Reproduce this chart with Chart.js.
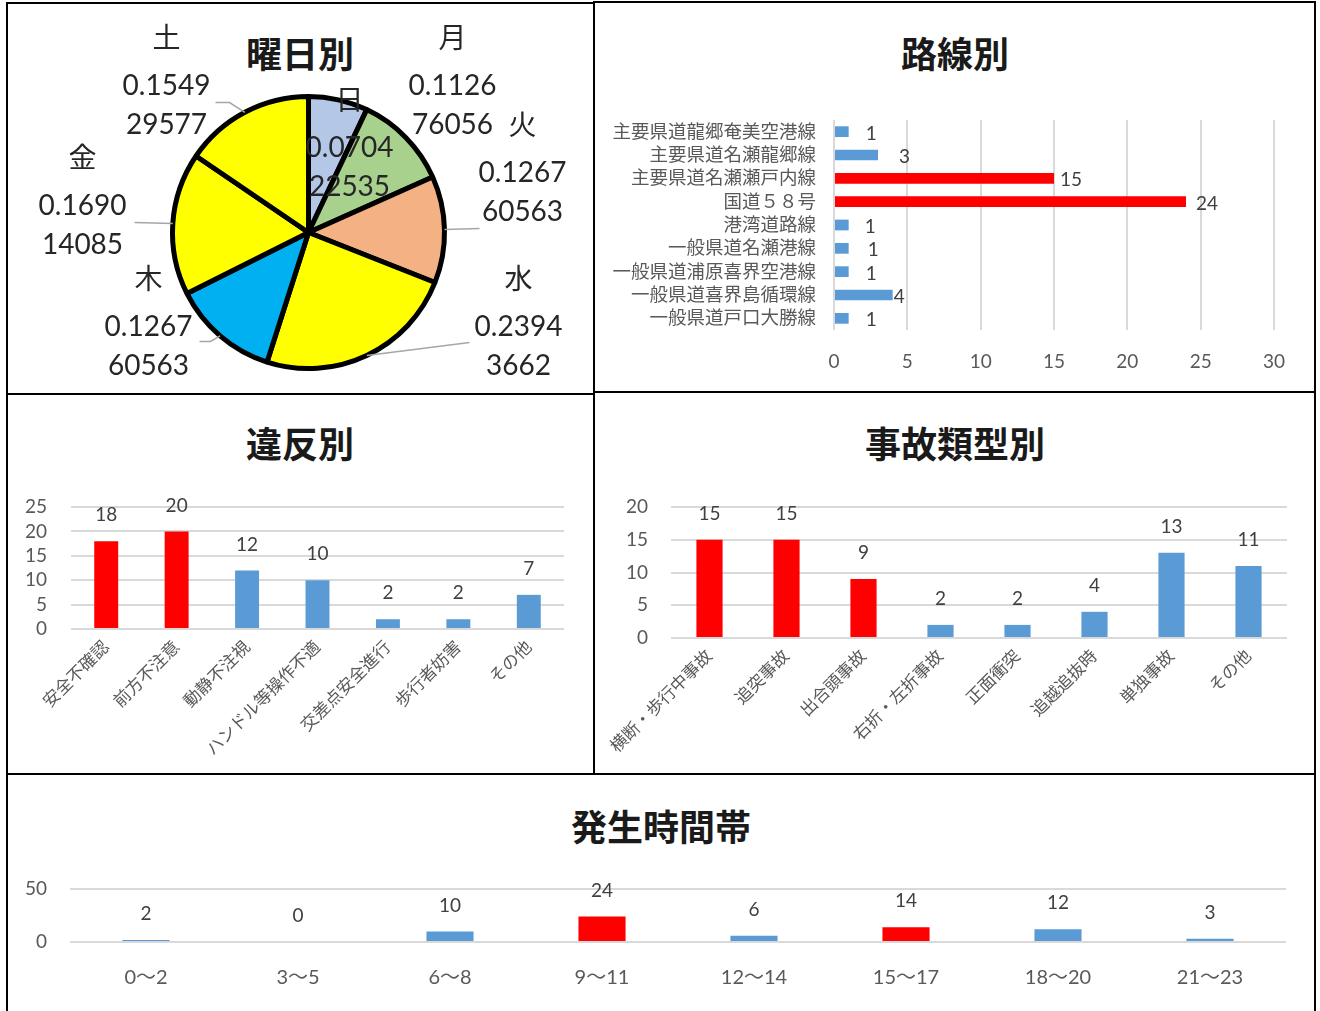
<!DOCTYPE html>
<html>
<head>
<meta charset="utf-8">
<script src="https://cdn.jsdelivr.net/npm/chart.js@4.4.1/dist/chart.umd.min.js"></script>
<style>
    body { margin: 0; background: #fff; }
    #page { position: relative; width: 1320px; height: 1011px; overflow: hidden; }
    .box { position: absolute; border: 2px solid #000; box-sizing: border-box; }
    .ttl { position: absolute; transform: translate(-50%, -50%); white-space: nowrap;
           font: bold 36px "Noto Sans CJK JP", sans-serif; color: #1a1a1a; }
    canvas { position: absolute; }
</style>
</head>
<body>
<div id="page">
    <div class="box" style="left:6px;top:2px;width:589px;height:393px"></div>
    <div class="box" style="left:593px;top:1px;width:723px;height:392px"></div>
    <div class="box" style="left:6px;top:393px;width:589px;height:382px"></div>
    <div class="box" style="left:593px;top:391px;width:723px;height:384px"></div>
    <div class="box" style="left:6px;top:773px;width:1310px;height:260px"></div>

    <div class="ttl" style="left:300px;top:52px">曜日別</div>
    <div class="ttl" style="left:955px;top:52px">路線別</div>
    <div class="ttl" style="left:300px;top:442px">違反別</div>
    <div class="ttl" style="left:955px;top:442px">事故類型別</div>
    <div class="ttl" style="left:661px;top:825px">発生時間帯</div>

    <canvas id="weekChart"  style="left:8px;top:4px"     width="585" height="388"></canvas>
    <canvas id="routeChart" style="left:595px;top:3px"   width="719" height="388"></canvas>
    <canvas id="violChart"  style="left:8px;top:395px"   width="585" height="377"></canvas>
    <canvas id="typeChart"  style="left:595px;top:393px" width="719" height="380"></canvas>
    <canvas id="hourChart"  style="left:8px;top:775px"   width="1306" height="236"></canvas>
</div>

<script>
// ==============================
//  DATA
// ==============================
const weekLabels = ["日", "月", "火", "水", "木", "金", "土"];
const weekCounts = [5, 8, 9, 17, 9, 12, 11];

const routeLabels = ["主要県道龍郷奄美空港線", "主要県道名瀬龍郷線", "主要県道名瀬瀬戸内線", "国道５８号",
    "港湾道路線", "一般県道名瀬港線", "一般県道浦原喜界空港線", "一般県道喜界島循環線", "一般県道戸口大勝線"];
const routeCounts = [1, 3, 15, 24, 1, 1, 1, 4, 1];

const violLabels = ["安全不確認", "前方不注意", "動静不注視", "ハンドル等操作不適", "交差点安全進行", "歩行者妨害", "その他"];
const violCounts = [18, 20, 12, 10, 2, 2, 7];

const typeLabels = ["横断・歩行中事故", "追突事故", "出合頭事故", "右折・左折事故", "正面衝突", "追越追抜時", "単独事故", "その他"];
const typeCounts = [15, 15, 9, 2, 2, 4, 13, 11];

const hourLabels = ["0～2", "3～5", "6～8", "9～11", "12～14", "15～17", "18～20", "21～23"];
const hourCounts = [2, 0, 10, 24, 6, 14, 12, 3];

// ==============================
//  STYLE
// ==============================
const FONT = "Lato, 'Noto Sans CJK JP', sans-serif";
const TICK = "#595959";
const GRID = "#d9d9d9";
const BLUE = "#5b9bd5";
const RED = "#ff0000";

const weekColors = ["#b4c7e7", "#a9d18e", "#f4b183", "#ffff00", "#00b0f0", "#ffff00", "#ffff00"];
const routeColors = [BLUE, BLUE, RED, RED, BLUE, BLUE, BLUE, BLUE, BLUE];
const violColors = [RED, RED, BLUE, BLUE, BLUE, BLUE, BLUE];
const typeColors = [RED, RED, RED, BLUE, BLUE, BLUE, BLUE, BLUE];
const hourColors = [BLUE, BLUE, BLUE, RED, BLUE, RED, BLUE, BLUE];

Chart.defaults.font.family = FONT;
Chart.defaults.animation = false;
Chart.defaults.plugins.legend.display = false;
Chart.defaults.plugins.tooltip.enabled = false;

// ==============================
//  PLUGINS
// ==============================
// numbers next to / above the bars
const valueLabels = {
    id: "valueLabels",
    afterDatasetsDraw(chart, args, o) {
        const ctx = chart.ctx;
        const data = chart.data.datasets[0].data;
        ctx.save();
        ctx.font = "19px " + FONT;
        ctx.fillStyle = "#404040";
        ctx.textBaseline = "middle";
        chart.getDatasetMeta(0).data.forEach((bar, i) => {
            if (chart.options.indexAxis === "y") {
                ctx.textAlign = "left";
                const off = o.offsets ? o.offsets[i] : 10;
                ctx.fillText(data[i], bar.x + off, bar.y + 2);
            } else {
                ctx.textAlign = "center";
                ctx.fillText(data[i], bar.x, bar.y - 26);
            }
        });
        ctx.restore();
    }
};

// pie labels: name + share, with leader lines
// offsets from the pie centre (name position), leader end points
const pieLabelPos = [[41, -133], [144, -195], [214, -108], [210, 46], [-160, 46], [-226, -75], [-142, -195]];
const pieLeaders = [null, null, [[171, -4]], [[161, 110]], [[-98, 109], [-109, 109]], [[-174, -10]], [[-79, -130], [-93, -130]]];

const pieLabels = {
    id: "pieLabels",
    afterDatasetsDraw(chart) {
        const ctx = chart.ctx;
        const data = chart.data.datasets[0].data;
        const total = data.reduce((a, b) => a + b, 0);
        ctx.save();
        chart.getDatasetMeta(0).data.forEach((arc, i) => {
            const cx = arc.x, cy = arc.y;
            const mid = (arc.startAngle + arc.endAngle) / 2;
            const r = arc.outerRadius;

            if (pieLeaders[i]) {
                ctx.strokeStyle = "#a6a6a6";
                ctx.lineWidth = 1.5;
                ctx.beginPath();
                ctx.moveTo(cx + Math.cos(mid) * r, cy + Math.sin(mid) * r);
                pieLeaders[i].forEach(p => ctx.lineTo(cx + p[0], cy + p[1]));
                ctx.stroke();
            }

            const share = String(parseFloat((data[i] / total).toFixed(9)));
            const [dx, dy] = pieLabelPos[i];
            ctx.fillStyle = "#262626";
            ctx.textAlign = "center";
            ctx.textBaseline = "middle";
            ctx.font = "28px 'Noto Sans CJK JP', sans-serif";
            ctx.fillText(weekLabels[i], cx + dx, cy + dy);
            ctx.font = "28px " + FONT;
            ctx.fillText(share.slice(0, 6), cx + dx, cy + dy + 48);
            ctx.fillText(share.slice(6), cx + dx, cy + dy + 87);
        });
        ctx.restore();
    }
};

// ==============================
//  曜日別 (PIE)
// ==============================
new Chart(document.getElementById("weekChart"), {
    type: "pie",
    data: {
        labels: weekLabels,
        datasets: [{
            data: weekCounts,
            backgroundColor: weekColors,
            borderColor: "#000",
            borderWidth: 5
        }]
    },
    options: {
        responsive: false,
        layout: { padding: { left: 162, right: 146, top: 90, bottom: 21 } }
    },
    plugins: [pieLabels]
});

// ==============================
//  路線別 (HORIZONTAL BAR)
// ==============================
new Chart(document.getElementById("routeChart"), {
    type: "bar",
    data: {
        labels: routeLabels,
        datasets: [{ data: routeCounts, backgroundColor: routeColors, categoryPercentage: 1, barPercentage: 0.46 }]
    },
    options: {
        responsive: false,
        indexAxis: "y",
        layout: { padding: { left: 0, right: 40, top: 117, bottom: 16 } },
        plugins: { valueLabels: { offsets: [17, 21, 6, 10, 16, 19, 17, 1, 17] } },
        scales: {
            x: {
                min: 0, max: 30,
                ticks: { stepSize: 5, padding: 20, color: TICK, font: { size: 19 } },
                grid: { color: GRID, lineWidth: 2, drawTicks: false },
                border: { display: false },
                afterFit: s => { s.height = 45; }
            },
            y: {
                ticks: { padding: 18, color: TICK, font: { size: 18.5 }, autoSkip: false },
                grid: { display: false, drawTicks: false },
                border: { display: false },
                afterFit: s => { s.width = 239; }
            }
        }
    },
    plugins: [valueLabels]
});

// ==============================
//  VERTICAL BAR HELPER
// ==============================
function barChart(id, labels, values, colors, cfg) {
    return new Chart(document.getElementById(id), {
        type: "bar",
        data: {
            labels: labels,
            datasets: [{ data: values, backgroundColor: colors, categoryPercentage: 1, barPercentage: cfg.barPct }]
        },
        options: {
            responsive: false,
            layout: { padding: cfg.padding },
            scales: {
                x: {
                    ticks: {
                        color: TICK,
                        font: { size: cfg.xFont },
                        minRotation: cfg.rotate, maxRotation: cfg.rotate,
                        padding: cfg.xPad,
                        autoSkip: false
                    },
                    grid: { display: false, drawTicks: false },
                    border: { display: false },
                    afterFit: s => { s.height = cfg.xHeight; }
                },
                y: {
                    min: 0, max: cfg.max,
                    ticks: { stepSize: cfg.step, padding: cfg.yPad, color: TICK, font: { size: 19 }, autoSkip: false },
                    grid: { color: GRID, lineWidth: 2, drawTicks: false },
                    border: { display: false },
                    afterFit: s => { s.width = cfg.yWidth; }
                }
            }
        },
        plugins: [valueLabels]
    });
}

barChart("violChart", violLabels, violCounts, violColors, {
    barPct: 0.34, max: 25, step: 5, rotate: 45, xFont: 17, xPad: 8,
    xHeight: 130, yWidth: 63, yPad: 24,
    padding: { left: 0, right: 29, top: 112, bottom: 13 }
});

barChart("typeChart", typeLabels, typeCounts, typeColors, {
    barPct: 0.34, max: 20, step: 5, rotate: 45, xFont: 17, xPad: 8,
    xHeight: 125, yWidth: 76, yPad: 23,
    padding: { left: 0, right: 27, top: 114, bottom: 10 }
});

barChart("hourChart", hourLabels, hourCounts, hourColors, {
    barPct: 0.31, max: 50, step: 50, rotate: 0, xFont: 20, xPad: 24,
    xHeight: 60, yWidth: 62, yPad: 23,
    padding: { left: 0, right: 28, top: 114, bottom: 9 }
});
</script>
</body>
</html>
